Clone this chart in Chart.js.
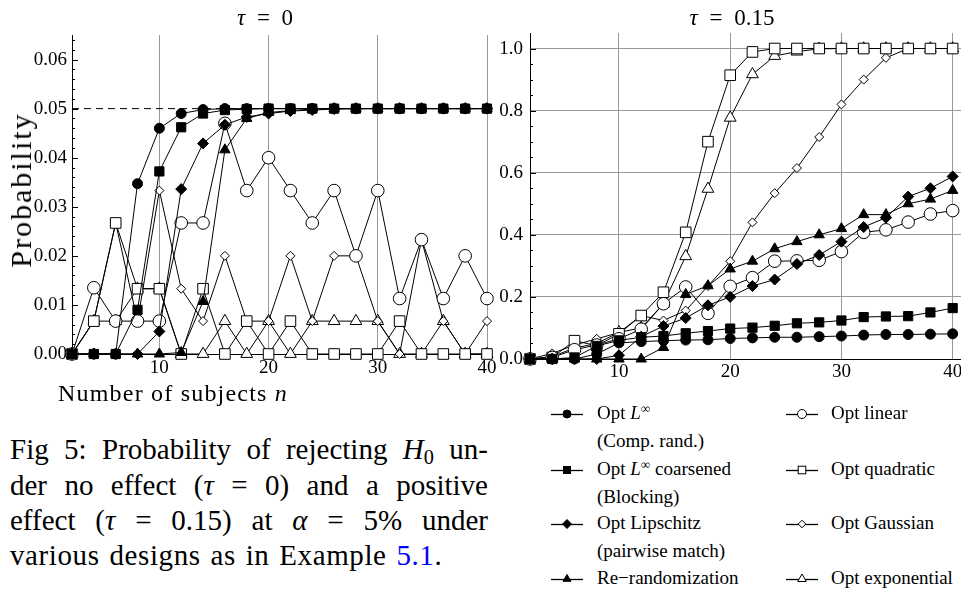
<!DOCTYPE html>
<html><head><meta charset="utf-8">
<script src="https://cdn.jsdelivr.net/npm/chart.js@4.4.1/dist/chart.umd.min.js"></script>
<style>
html,body{margin:0;padding:0;background:#fff;width:961px;height:589px;overflow:hidden;}
body{position:relative;font-family:"Liberation Serif","Times New Roman",serif;color:#000;}
.abs{position:absolute;white-space:nowrap;}
canvas{position:absolute;left:0;top:0;}
.cap{position:absolute;left:10px;width:478px;font-size:29px;line-height:35px;height:35px;white-space:nowrap;}
.just{text-align:justify;text-align-last:justify;}
.leg{position:absolute;font-size:19px;line-height:22px;white-space:nowrap;}
.sym{position:absolute;}
sub{font-size:70%;vertical-align:-0.25em;line-height:0;}
sup{font-size:70%;vertical-align:0.45em;line-height:0;}
</style></head><body>
<canvas id="cL" width="500" height="400"></canvas>
<canvas id="cR" width="471" height="400" style="left:490px"></canvas>

<div class="abs" style="left:265px;top:18px;transform:translate(-50%,-50%);font-size:23px;word-spacing:6px"><i>τ</i> = 0</div>
<div class="abs" style="left:732px;top:18px;transform:translate(-50%,-50%);font-size:23px;word-spacing:6px"><i>τ</i> = 0.15</div>
<div class="abs" style="left:21px;top:190px;transform:translate(-50%,-50%) rotate(-90deg);font-size:30px;letter-spacing:2px">Probability</div>
<div class="abs" style="left:58px;top:393px;transform:translate(0,-50%);font-size:24px;letter-spacing:1.2px">Number of subjects <i>n</i></div>

<div class="cap just" style="top:432px">Fig 5: Probability of rejecting <i>H</i><sub>0</sub> un-</div>
<div class="cap just" style="top:468px">der no effect (<i>τ</i> = 0) and a positive</div>
<div class="cap just" style="top:503px">effect (<i>τ</i> = 0.15) at <i>α</i> = 5% under</div>
<div class="cap" style="top:538px;letter-spacing:0.6px;word-spacing:2px">various designs as in Example <span style="color:#0000ff">5.1</span>.</div>

<div id="legend"></div>

<script>
// ---------- data ----------
const nValues = [2,4,6,8,10,12,14,16,18,20,22,24,26,28,30,32,34,36,38,40];
const xTickValues = [10,20,30,40];
const yTicksLeft = [0,0.01,0.02,0.03,0.04,0.05,0.06];
const yTicksRight = [0,0.2,0.4,0.6,0.8,1.0];
const alphaLevel = 0.05;

const seriesNames = ["Opt L∞ (Comp. rand.)","Opt L∞ coarsened (Blocking)","Opt Lipschitz (pairwise match)","Re−randomization",
                     "Opt linear","Opt quadratic","Opt Gaussian","Opt exponential"];

// tau = 0
const optLinf_t0        = [0,0,0,0.0347,0.046,0.049,0.0498,0.05,0.05,0.05,0.05,0.05,0.05,0.05,0.05,0.05,0.05,0.05,0.05,0.05];
const optLinfCoarse_t0  = [0,0,0,0.009,0.0372,0.0462,0.049,0.0497,0.0499,0.05,0.05,0.05,0.05,0.05,0.05,0.05,0.05,0.05,0.05,0.05];
const optLipschitz_t0   = [0,0,0,0,0.0046,0.0336,0.0429,0.0467,0.0483,0.049,0.0495,0.0497,0.0499,0.05,0.05,0.05,0.05,0.05,0.05,0.05];
const reRandom_t0       = [0,0,0,0,0,0.0003,0.0107,0.0416,0.048,0.0492,0.0496,0.0499,0.05,0.05,0.05,0.05,0.05,0.05,0.05,0.05];
const optLinear_t0      = [0,0.0135,0.0067,0.0067,0.0067,0.0267,0.0267,0.047,0.0333,0.04,0.0333,0.0267,0.0333,0.02,0.0333,0.0113,0.0233,0.0113,0.02,0.0113];
const optQuadratic_t0   = [0,0.0067,0.0267,0.0133,0.0133,0,0.0133,0,0.0067,0,0.0067,0,0,0,0,0.0067,0,0,0,0];
const optGaussian_t0    = [0,0.0067,0.0267,0.0067,0.0333,0.0133,0.0067,0.02,0.0067,0.0067,0.02,0.0067,0.02,0.02,0.0067,0,0.0233,0.0067,0,0.0067];
const optExponential_t0 = [0,0.0067,0.0067,0.0133,0.0133,0,0,0.0067,0,0.0067,0,0.0067,0.0067,0.0067,0.0067,0,0,0.0067,0,0];

// tau = 0.15
const optLinf_t15        = [0,0,0,0.016,0.052,0.056,0.059,0.061,0.062,0.066,0.068,0.07,0.07,0.072,0.074,0.077,0.079,0.079,0.08,0.081];
const optLinfCoarse_t15  = [0,0,0.005,0.042,0.06,0.07,0.074,0.083,0.09,0.098,0.101,0.107,0.115,0.118,0.124,0.135,0.137,0.138,0.15,0.164];
const optLipschitz_t15   = [0,0,0,0,0.012,0.072,0.106,0.132,0.173,0.2,0.235,0.256,0.306,0.335,0.378,0.425,0.455,0.523,0.55,0.588];
const reRandom_t15       = [0,0,0,0,0,0,0.037,0.208,0.236,0.29,0.315,0.355,0.378,0.4,0.42,0.465,0.465,0.5,0.515,0.543];
const optLinear_t15      = [0,0.005,0.03,0.045,0.065,0.096,0.178,0.232,0.147,0.234,0.262,0.315,0.316,0.318,0.346,0.408,0.416,0.441,0.467,0.478];
const optQuadratic_t15   = [0,0.005,0.059,0.043,0.081,0.14,0.215,0.408,0.70,0.914,0.989,1,1,1,1,1,1,1,1,1];
const optGaussian_t15    = [0,0.018,0.045,0.065,0.085,0.14,0.124,0.156,0.235,0.315,0.44,0.534,0.615,0.715,0.82,0.9,0.97,1,1,1];
const optExponential_t15 = [0,0.008,0.035,0.05,0.086,0.1,0.178,0.331,0.548,0.777,0.917,0.976,0.99,0.999,1,1,1,1,1,1];

// ---------- styles ----------
const markStyles = [
  {ps:'circle',   filled:true,  r:5},
  {ps:'rect',     filled:true,  r:6.5},
  {ps:'rectRot',  filled:true,  r:5.5},
  {ps:'triangle', filled:true,  r:6},
  {ps:'circle',   filled:false, r:6.3},
  {ps:'rect',     filled:false, r:7.5},
  {ps:'rectRot',  filled:false, r:4.5},
  {ps:'triangle', filled:false, r:6.8},
];
const FAMILY = '"Liberation Serif", "Times New Roman", Tinos, serif';
const FONT = {family:FAMILY, size:19};

function makeDatasets(list){
  return list.map((vals,i)=>{
    const s = markStyles[i];
    return {
      label: seriesNames[i],
      data: nValues.map((n,j)=>({x:n, y:vals[j]})),
      borderColor:'#000', borderWidth:1, tension:0, fill:false, clip:false,
      pointStyle:s.ps, pointRadius:s.r, pointHoverRadius:s.r,
      pointBackgroundColor: s.filled ? '#000' : '#fff',
      pointBorderColor:'#000', pointBorderWidth:1,
    };
  });
}

const innerTicks = {
  id:'innerTicks',
  afterDraw(chart, args, opts){
    const y = chart.scales.y, ctx = chart.ctx, left = chart.chartArea.left;
    ctx.save(); ctx.strokeStyle = '#000'; ctx.lineWidth = 1;
    const draw = (v,len)=>{
      const p = Math.round(y.getPixelForValue(v)) + 0.5;
      ctx.beginPath(); ctx.moveTo(left, p); ctx.lineTo(left+len, p); ctx.stroke();
    };
    for (let k=0; k*opts.minor <= opts.max + 1e-9; k++){
      const v = k*opts.minor;
      const isMajor = Math.abs(v/opts.major - Math.round(v/opts.major)) < 1e-6;
      draw(v, isMajor ? 6 : 3);
    }
    ctx.restore();
  }
};

function makeChart(id, datasets, cfg){
  return new Chart(document.getElementById(id), {
    type:'line',
    data:{datasets},
    plugins:[innerTicks],
    options:{
      responsive:false, animation:false, devicePixelRatio:1,
      layout:{padding:cfg.padding, autoPadding:false},
      plugins:{legend:{display:false}, tooltip:{enabled:false}, title:{display:false}, innerTicks:cfg.inner},
      scales:{
        x:{type:'linear', min:cfg.xmin, max:cfg.xmax,
           afterBuildTicks:s=>{s.ticks = xTickValues.map(v=>({value:v}));},
           ticks:{autoSkip:false, maxRotation:0, padding:cfg.xpad, color:'#000', font:FONT, callback:v=>String(v)},
           grid:{color:'#999', lineWidth:1, drawTicks:false},
           border:{color:'#000', width:1},
           afterFit:s=>{s.height = cfg.xh; s.paddingLeft = 0; s.paddingRight = 0;}},
        y:{type:'linear', min:cfg.ymin, max:cfg.ymax,
           afterBuildTicks:s=>{s.ticks = cfg.yticks.map(v=>({value:v}));},
           ticks:{autoSkip:false, padding:cfg.ypad, color:'#000', font:FONT, callback:v=>v.toFixed(cfg.dec)},
           grid:{display:cfg.ygrid, color:'#999', lineWidth:1, drawTicks:false},
           border:{color:'#000', width:1},
           afterFit:s=>{s.width = cfg.yw; s.paddingTop = 0; s.paddingBottom = 0;}}
      }
    }
  });
}

function drawAll(){
  Chart.defaults.font.family = FAMILY;
  // left chart: tau = 0
  const dsL = makeDatasets([optLinf_t0, optLinfCoarse_t0, optLipschitz_t0, reRandom_t0,
                            optLinear_t0, optQuadratic_t0, optGaussian_t0, optExponential_t0]);
  dsL.push({label:'alpha', data:[{x:nValues[0],y:alphaLevel},{x:nValues[nValues.length-1],y:alphaLevel}],
            borderColor:'#000', borderWidth:1, borderDash:[7,5], pointRadius:0, fill:false, clip:false});
  makeChart('cL', dsL, {padding:{left:0,right:13,top:35,bottom:0}, xmin:2, xmax:40, xh:46, xpad:3,
    ymin:0, ymax:0.065, yticks:yTicksLeft, yw:72, ypad:5, dec:2, ygrid:false,
    inner:{major:0.01, minor:0.002, max:0.064}});

  // right chart: tau = 0.15
  const dsR = makeDatasets([optLinf_t15, optLinfCoarse_t15, optLipschitz_t15, reRandom_t15,
                            optLinear_t15, optQuadratic_t15, optGaussian_t15, optExponential_t15]);
  makeChart('cR', dsR, {padding:{left:0,right:0,top:33,bottom:0}, xmin:2, xmax:40.75, xh:41, xpad:2,
    ymin:0, ymax:1.05, yticks:yTicksRight, yw:40, ypad:7, dec:1, ygrid:true,
    inner:{major:0.2, minor:0.05, max:1.0}});
}

// ---------- legend ----------
const legendText = [
  ['Opt <i>L</i><sup>∞</sup>','(Comp. rand.)'],
  ['Opt <i>L</i><sup>∞</sup> coarsened','(Blocking)'],
  ['Opt Lipschitz','(pairwise match)'],
  ['Re−randomization'],
  ['Opt linear'],['Opt quadratic'],['Opt Gaussian'],['Opt exponential']
];
const legRows = [414,470,524,579];
function symbolSVG(s){
  const f = s.filled ? '#000' : '#fff';
  let m;
  const cx=16, cy=7;
  if (s.ps==='circle') m = `<circle cx="${cx}" cy="${cy}" r="${s.filled?4:4.5}" fill="${f}" stroke="#000" stroke-width="1"/>`;
  else if (s.ps==='rect') { const h = s.filled?3.5:3.8; m = `<rect x="${cx-h}" y="${cy-h}" width="${2*h}" height="${2*h}" fill="${f}" stroke="#000" stroke-width="1"/>`; }
  else if (s.ps==='rectRot') { const h = s.filled?4.5:3.8; m = `<polygon points="${cx-h},${cy} ${cx},${cy-h} ${cx+h},${cy} ${cx},${cy+h}" fill="${f}" stroke="#000" stroke-width="1"/>`; }
  else { const r = s.filled?4.6:5; m = `<polygon points="${cx},${cy-r} ${cx+0.866*r},${cy+0.5*r} ${cx-0.866*r},${cy+0.5*r}" fill="${f}" stroke="#000" stroke-width="1"/>`; }
  return `<svg width="32" height="14" viewBox="0 0 32 14"><line x1="0" y1="7.5" x2="32" y2="7.5" stroke="#000" stroke-width="1.3"/>${m}</svg>`;
}
let html = '';
legendText.forEach((lines,i)=>{
  const col = i<4 ? 0 : 1, row = i%4;
  const sx = col===0 ? 551 : 786, tx = col===0 ? 597 : 831;
  const y = legRows[row];
  html += `<div class="sym" style="left:${sx}px;top:${y-7}px">${symbolSVG(markStyles[i])}</div>`;
  html += `<div class="leg" style="left:${tx}px;top:${y-12}px">${lines[0]}</div>`;
  if (lines[1]) html += `<div class="leg" style="left:${tx}px;top:${y-12+28}px">${lines[1]}</div>`;
});
document.getElementById('legend').innerHTML = html;

let drawn = false;
function go(){ if (!drawn){ drawn = true; drawAll(); } }
if (document.fonts && document.fonts.load){
  Promise.all([document.fonts.load('19px "Liberation Serif"'), document.fonts.load('italic 19px "Liberation Serif"')])
    .then(go, go);
  setTimeout(go, 400);
} else { go(); }
</script>
</body></html>
